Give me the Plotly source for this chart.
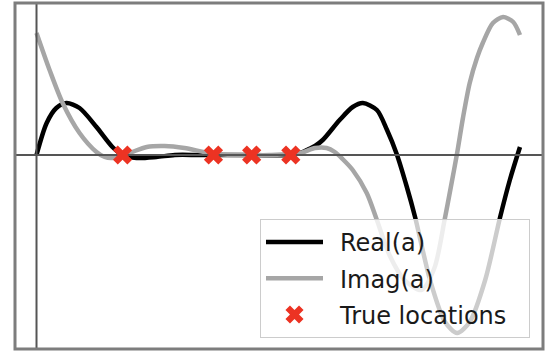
import plotly.graph_objects as go

# Sampled real part of a(t)
real_x = [0, 0.21, 0.41, 0.62, 0.89, 1.24, 1.57, 1.78, 2.07, 2.48, 2.86, 3.37, 4.41, 5.24,
          5.45, 5.59, 5.76, 5.92, 6.27, 6.54, 6.75, 7.04, 7.25, 7.45, 7.66, 7.83, 8.14,
          8.45, 8.70, 8.96, 9.28, 9.59, 9.79, 10.0]
real_y = [0, 0.32, 0.47, 0.52, 0.47, 0.28, 0.08, 0.0, -0.03, -0.02, 0.0, 0.0, 0.0, 0.0,
          0.02, 0.05, 0.09, 0.15, 0.35, 0.48, 0.52, 0.45, 0.25, 0.01, -0.32, -0.62, -1.25,
          -1.67, -1.78, -1.67, -1.25, -0.62, -0.25, 0.08]

# Sampled imaginary part of a(t)
imag_x = [0, 0.27, 0.54, 0.89, 1.24, 1.41, 1.57, 1.92, 2.28, 2.65, 3.06, 3.58, 4.10, 4.82,
          5.45, 5.76, 6.00, 6.17, 6.33, 6.54, 6.83, 7.04, 7.30, 7.61, 7.96, 8.23, 8.44,
          8.57, 8.70, 8.82, 8.96, 9.11, 9.23, 9.44, 9.65, 9.86, 10.0]
imag_y = [1.22, 0.85, 0.52, 0.22, 0.03, -0.02, -0.03, 0.02, 0.08, 0.09, 0.07, 0.02, 0.0, 0.0,
          0.02, 0.07, 0.07, 0.03, -0.04, -0.15, -0.38, -0.65, -1.00, -1.25, -1.35, -1.13,
          -0.65, -0.32, 0.02, 0.37, 0.72, 0.97, 1.12, 1.32, 1.38, 1.33, 1.20]

# Known root locations
true_x = [1.78, 3.66, 4.45, 5.26]
true_y = [0, 0, 0, 0]

legend_labels = ["Real(a)", "Imag(a)", "True locations"]

W, H = 548, 353
ML, MR, MT, MB = 15, 5, 3, 4
X_RANGE = [-0.445, 10.476]
Y_RANGE = [-1.94, 1.52]

BLACK = "#000000"
GRAY = "#a6a6a6"
RED = "#ec3323"
FONT = "DejaVu Sans"
LABEL_PAD = "\u2002"          # gap between legend symbol and label
TRAIL_PAD = "\u2002\u2009"    # extra room on the right of the legend panel


def px_x(px):
    """Figure pixel column -> plot-area fraction."""
    return (px - ML) / (W - ML - MR)


def px_y(py):
    """Figure pixel row -> plot-area fraction."""
    return (H - MB - py) / (H - MT - MB)


fig = go.Figure()

fig.add_trace(go.Scatter(x=real_x, y=real_y, mode="lines", name=LABEL_PAD + legend_labels[0],
                         legendgroup="re",
                         line=dict(color=BLACK, width=4.5, shape="spline", smoothing=0.8),
                         hoverinfo="skip"))
fig.add_trace(go.Scatter(x=imag_x, y=imag_y, mode="lines", name=LABEL_PAD + legend_labels[1],
                         legendgroup="im",
                         line=dict(color=GRAY, width=4.5, shape="spline", smoothing=0.8),
                         hoverinfo="skip"))

# zero lines (axhline / axvline)
fig.add_trace(go.Scatter(x=X_RANGE, y=[0, 0], mode="lines",
                         line=dict(color="#555555", width=2),
                         showlegend=False, hoverinfo="skip"))
fig.add_trace(go.Scatter(x=[0, 0], y=Y_RANGE, mode="lines",
                         line=dict(color="#555555", width=2),
                         showlegend=False, hoverinfo="skip"))

fig.add_trace(go.Scatter(x=true_x, y=true_y, mode="markers",
                         name=LABEL_PAD + legend_labels[2] + TRAIL_PAD,
                         legendgroup="tr",
                         marker=dict(symbol="x", size=17, color=RED, line=dict(width=0)),
                         hoverinfo="skip"))

# axes frame
fig.add_shape(type="rect", xref="paper", yref="paper", x0=0, x1=1, y0=0, y1=1,
              line=dict(color="#7d7d7d", width=3), layer="above")

axis_common = dict(visible=False, showgrid=False, zeroline=False, fixedrange=True)
fig.update_layout(
    width=W, height=H,
    margin=dict(l=ML, r=MR, t=MT, b=MB, pad=0),
    paper_bgcolor="white", plot_bgcolor="white",
    xaxis=dict(range=X_RANGE, **axis_common),
    yaxis=dict(range=Y_RANGE, **axis_common),
    showlegend=True,
    legend=dict(x=px_x(260), y=px_y(219), xanchor="left", yanchor="top",
                bgcolor="rgba(255,255,255,0.8)", bordercolor="#cccccc", borderwidth=1,
                font=dict(family=FONT, size=24, color="#1a1a1a"),
                itemwidth=57, tracegroupgap=2, traceorder="grouped",
                itemclick=False, itemdoubleclick=False),
    font=dict(family=FONT),
)

fig.write_html("out.html")
